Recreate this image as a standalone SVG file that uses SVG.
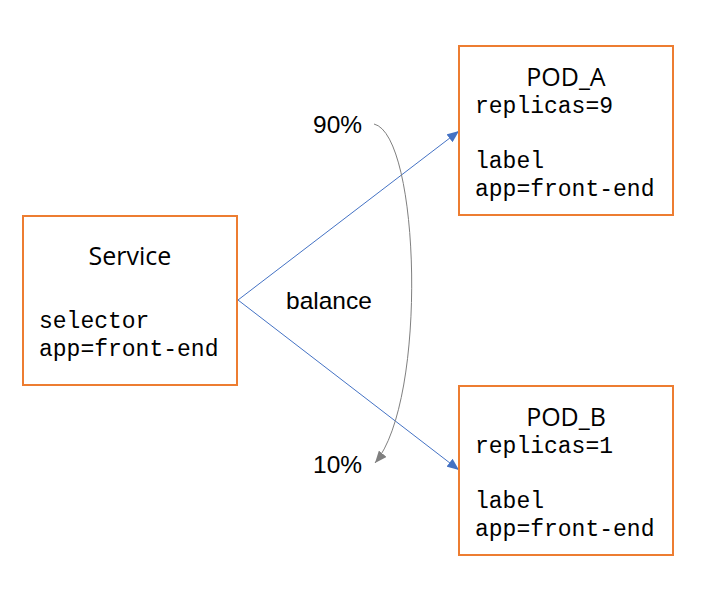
<svg xmlns="http://www.w3.org/2000/svg" width="710" height="600" viewBox="0 0 710 600">
<defs>
<style>
.box{fill:#fff;stroke:#ED7D31;stroke-width:2}
.title{font-family:"Open Sans","Liberation Sans",sans-serif;font-size:25px;fill:#000;text-anchor:middle}
.mono{font-family:"Liberation Mono","Courier New",monospace;font-size:23px;fill:#000}
.lbl{font-family:"Liberation Sans",Arial,sans-serif;font-size:24.5px;fill:#000}
.blue{stroke:#4472C4;stroke-width:1;fill:none}
.gray{stroke:#7f7f7f;stroke-width:1;fill:none}
</style>
<marker id="ab" viewBox="0 0 12 10" refX="12" refY="5" markerWidth="12" markerHeight="10" markerUnits="userSpaceOnUse" orient="auto">
<path d="M0,0 L12,5 L0,10 Z" fill="#4472C4"/>
</marker>
<marker id="ag" viewBox="0 0 12 10" refX="12" refY="5" markerWidth="12" markerHeight="10" markerUnits="userSpaceOnUse" orient="auto">
<path d="M0,0 L12,5 L0,10 Z" fill="#7f7f7f"/>
</marker>
</defs>
<rect width="710" height="600" fill="#fff"/>
<g id="connectors">
<line class="blue" x1="238" y1="300" x2="459" y2="131" marker-end="url(#ab)"/>
<line class="blue" x1="238" y1="300" x2="459" y2="470" marker-end="url(#ab)"/>
<path class="gray" d="M374,124 C420,135 428,400 375,463" marker-end="url(#ag)"/>
</g>
<g id="service">
<rect class="box" x="23" y="216" width="214" height="169"/>
<text class="title" x="130" y="265">Service</text>
<text class="mono" x="39" y="328">selector</text>
<text class="mono" x="39" y="356">app=front-end</text>
</g>
<g id="pod_a">
<rect class="box" x="459" y="46" width="214" height="169"/>
<text class="title" x="566" y="86">POD_A</text>
<text class="mono" x="475" y="113">replicas=9</text>
<text class="mono" x="475" y="168">label</text>
<text class="mono" x="475" y="196">app=front-end</text>
</g>
<g id="pod_b">
<rect class="box" x="459" y="386" width="214" height="169"/>
<text class="title" x="566" y="426">POD_B</text>
<text class="mono" x="475" y="453">replicas=1</text>
<text class="mono" x="475" y="508">label</text>
<text class="mono" x="475" y="536">app=front-end</text>
</g>
<g id="labels">
<text class="lbl" x="313" y="133">90%</text>
<text class="lbl" x="313" y="473">10%</text>
<text class="lbl" x="286" y="309">balance</text>
</g>
</svg>
